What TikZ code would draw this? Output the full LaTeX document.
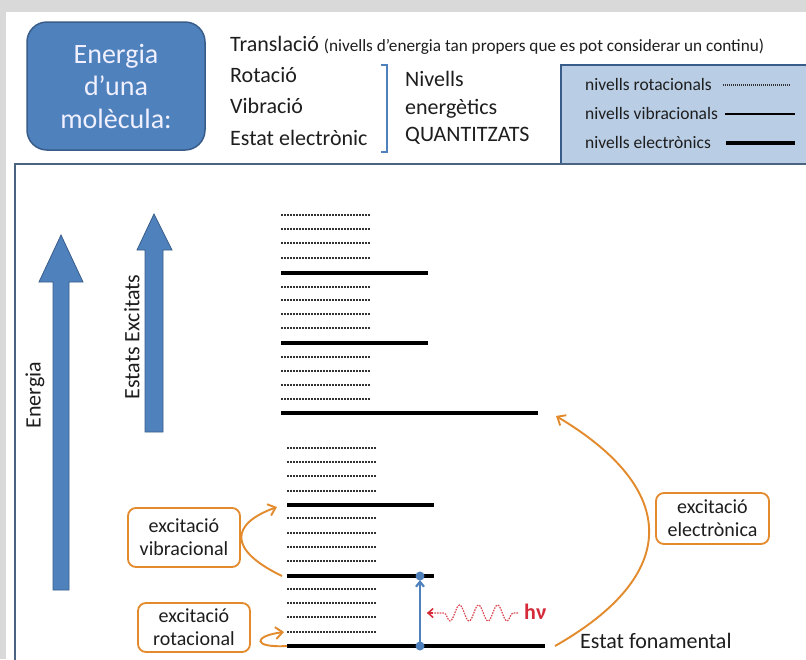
\documentclass[tikz,border=0pt]{standalone}
\usepackage{fontspec}
\setmainfont{Carlito}
\usetikzlibrary{decorations.pathmorphing,arrows.meta}
\definecolor{bgrey}{HTML}{D9D9D9}
\definecolor{accblue}{HTML}{4F81BD}
\definecolor{darkblue}{HTML}{385D8A}
\definecolor{legfill}{HTML}{B9CDE5}
\definecolor{framec}{HTML}{4A6380}
\definecolor{orng}{HTML}{E28A2C}
\definecolor{hvred}{HTML}{D42A3A}
\definecolor{txt}{HTML}{1E1E1E}
\tikzset{
  rotlev/.style={line width=1.9pt, dash pattern=on 1.5pt off 1.5pt, color=black!80},
  viblev/.style={line width=3.2pt, color=black},
  eleclev/.style={line width=4.4pt, color=black},
  lbl/.style={anchor=base west, inner sep=0pt, text=txt, font=\fontsize{22}{26}\selectfont},
  leglbl/.style={anchor=base west, inner sep=0pt, text=txt, font=\fontsize{17.5}{20}\selectfont},
  obox/.style={draw=orng, line width=1.8pt, rounded corners=8pt, fill=white, align=center,
     text=txt, font=\fontsize{20}{23}\selectfont, inner sep=0pt},
  oarrow/.style={draw=orng, line width=1.9pt, -{Straight Barb[length=7pt,width=12pt]}},
  blockarrow/.style={fill=accblue, draw=darkblue, line width=0.8pt},
}
\begin{document}
\begin{tikzpicture}[x=1pt,y=-1pt]
\useasboundingbox (0,0) rectangle (806,659);
\fill[bgrey] (0,0) rectangle (806,659);
\fill[white] (6,12) rectangle (806,659);
\begin{scope}
\clip (0,0) rectangle (806,659);
% legend box
\draw[fill=legfill, draw=darkblue, line width=1.5pt] (561,65) rectangle (830,164);
% main frame
\draw[framec, line width=2.2pt] (15,690) -- (15,164) -- (830,164);
\end{scope}

% molecule box
\node[draw=darkblue, fill=accblue, rounded corners=20pt, line width=1.5pt,
      minimum width=178pt, minimum height=128pt, text=white!94!blue, align=center,
      font=\fontsize{28}{32.5}\selectfont] (mol) at (116,86) {Energia\\d’una\\molècula:};

% header texts
\node[lbl] (tr) at (230,51) {Translació {\fontsize{17.2}{19}\selectfont (nivells d’energia tan propers que es pot considerar un continu)}};
\node[lbl] (rot) at (230,82) {Rotació};
\node[lbl] (vib) at (230,113) {Vibració};
\node[lbl] (est) at (230,145) {Estat electrònic};
\draw[accblue, line width=2pt] (381,65) -- (387,65) -- (387,152) -- (381,152);
\node[lbl] (niv) at (405,86) {Nivells};
\node[lbl] (ene) at (405,114) {energètics};
\node[lbl] (qua) at (405,141) {QUANTITZATS};

% legend
\node[leglbl] (lr) at (585,90) {nivells rotacionals};
\node[leglbl] (lv) at (585,119) {nivells vibracionals};
\node[leglbl] (le) at (585,148) {nivells electrònics};
\draw[rotlev, line width=1.3pt, dash pattern=on 1pt off 1pt] (723,85) -- (790,85);
\draw[viblev, line width=2.6pt] (725,114) -- (795,114);
\draw[eleclev, line width=3.8pt] (726,143) -- (795,143);

% block arrows
\path[blockarrow] (53,590) -- (53,282) -- (39,282) -- (61,235) -- (83,282) -- (69,282) -- (69,590) -- cycle;
\path[blockarrow] (145,432) -- (145,250) -- (137,250) -- (154,214) -- (172,250) -- (163,250) -- (163,432) -- cycle;
\node[rotate=90, text=txt, font=\fontsize{22}{26}\selectfont] (enl) at (35,395) {Energia};
\node[rotate=90, text=txt, font=\fontsize{22}{26}\selectfont] (exl) at (132,337) {Estats Excitats};

% upper group of levels
\foreach \y in {215,229,243,258,287,300,314,328,357,371,385,399}
  \draw[rotlev] (281,\y) -- (370,\y);
\foreach \y in {273,343}
  \draw[viblev] (281,\y) -- (428,\y);
\draw[eleclev] (281,413) coordinate (e1l) -- (538,413) coordinate (e1r);

% lower group of levels
\foreach \y in {448,462,476,491,518,533,547,561,589,603,617}
  \draw[rotlev] (287,\y) -- (377,\y);
\draw[rotlev] (287,632) coordinate (r1l) -- (377,632);
\draw[viblev] (287,505) coordinate (v2l) -- (434,505);
\draw[viblev] (287,576) coordinate (v1l) -- (434,576) coordinate (v1r);
\draw[eleclev] (287,646) coordinate (g0l) -- (545,646) coordinate (g0r);

% vertical transition
\coordinate (tb) at (420,646);
\coordinate (tt) at (420,576);
\draw[accblue, line width=2.2pt, shorten >=4pt, -{Straight Barb[length=5pt,width=8pt]}] (tb) -- (tt);
\fill[accblue] (tb) circle (4.5);
\fill[accblue] (tt) circle (4.5);

% photon
\coordinate (hs) at (518,613);
\coordinate (he) at (427,613);
\draw[hvred!85!white, line width=1.2pt, dash pattern=on 1.6pt off 1.1pt, decorate,
      decoration={snake, amplitude=8pt, segment length=19pt, pre length=5pt, post length=16pt}] (hs) -- (he);
\draw[hvred, line width=1.5pt, -{Straight Barb[length=5pt,width=9pt]}] ([xshift=6pt]he) -- (he);
\node[anchor=base west, inner sep=0pt, text=hvred, font=\fontsize{22}{26}\selectfont\bfseries] (hv) at (524,619) {hν};

% orange boxes
\node[obox, minimum width=112pt, minimum height=59pt] (bvib) at (184,537.5) {excitació\\vibracional};
\node[obox, minimum width=112pt, minimum height=49pt] (brot) at (194,627.5) {excitació\\rotacional};
\node[obox, minimum width=113pt, minimum height=51pt] (bele) at (712.5,518.5) {excitació\\electrònica};

% orange arrows
\draw[oarrow] ([xshift=-5pt]v1l) .. controls (228,550) and (230,524) .. ([xshift=-10pt,yshift=-2pt]v2l);
\draw[oarrow] (g0l) .. controls (252,648) and (253,636) .. ([xshift=-3pt]r1l);
\draw[oarrow] ([xshift=10pt]g0r) .. controls (680,575) and (680,490) .. ([xshift=18pt,yshift=-3pt]e1r);

\node[lbl] (fon) at (580,648) {Estat fonamental};
\end{tikzpicture}
\end{document}
